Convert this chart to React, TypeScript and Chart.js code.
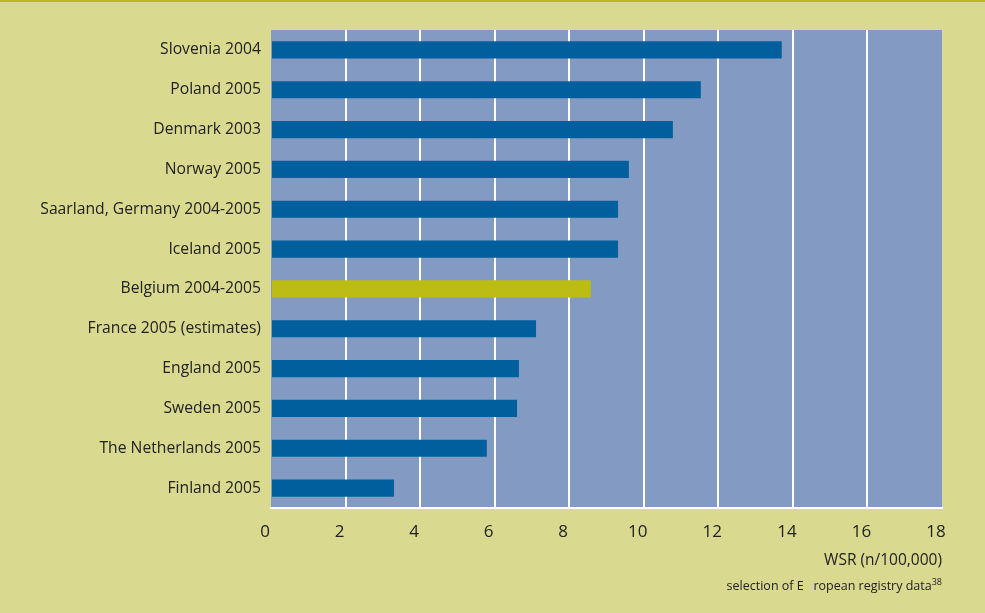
import React, { useEffect, useRef } from "react";
import { Chart, registerables } from "chart.js";

Chart.register(...registerables);

const categories = [
  "Slovenia 2004",
  "Poland 2005",
  "Denmark 2003",
  "Norway 2005",
  "Saarland, Germany 2004-2005",
  "Iceland 2005",
  "Belgium 2004-2005",
  "France 2005 (estimates)",
  "England 2005",
  "Sweden 2005",
  "The Netherlands 2005",
  "Finland 2005",
];
const wsrValues = [13.7, 11.53, 10.78, 9.6, 9.31, 9.31, 8.58, 7.11, 6.65, 6.6, 5.79, 3.3];
const highlighted = "Belgium 2004-2005";
const axisTitle = "WSR (n/100,000)";
const sourceText = "selection of E   ropean registry data";
const sourceSup = "38";

const BG = "#d9d98f";
const PLOT_BG = "#839bc3";
const BAR = "#005f9c";
const BAR_HI = "#bbbd15";
const TOP_LINE = "#b9bb16";
const TEXT = "#222222";
const FONT = "'Open Sans', sans-serif";

export default function App() {
  const ref = useRef<HTMLCanvasElement | null>(null);
  useEffect(() => {
    if (!ref.current) return;
    const bgPlugin = {
      id: "bgPlugin",
      beforeDraw(chart: any) {
        const { ctx, chartArea, width } = chart;
        ctx.save();
        ctx.fillStyle = BG;
        ctx.fillRect(0, 0, chart.width, chart.height);
        ctx.fillStyle = TOP_LINE;
        ctx.fillRect(0, 0, width, 2);
        ctx.fillStyle = PLOT_BG;
        ctx.fillRect(chartArea.left, chartArea.top, chartArea.right - chartArea.left, chartArea.bottom - chartArea.top);
        ctx.restore();
      },
      afterDraw(chart: any) {
        const { ctx, chartArea } = chart;
        ctx.save();
        ctx.fillStyle = TEXT;
        ctx.textAlign = "right";
        ctx.textBaseline = "middle";
        ctx.font = `15.5px ${FONT}`;
        ctx.fillText(axisTitle, chartArea.right, 561);
        ctx.font = `9px ${FONT}`;
        const supW = ctx.measureText(sourceSup).width;
        ctx.fillText(sourceSup, chartArea.right, 582);
        ctx.font = `12.5px ${FONT}`;
        ctx.fillText(sourceText, chartArea.right - supW, 586);
        ctx.restore();
      },
    };
    const chart = new Chart(ref.current, {
      type: "bar",
      data: {
        labels: categories,
        datasets: [
          {
            data: wsrValues,
            backgroundColor: categories.map((c) => (c === highlighted ? BAR_HI : BAR)),
            borderWidth: 0,
            barPercentage: 0.43,
            categoryPercentage: 1,
          },
        ],
      },
      options: {
        indexAxis: "y",
        animation: false,
        responsive: false,
        maintainAspectRatio: false,
        layout: { padding: { left: 0, right: 43, top: 30, bottom: 0 } },
        plugins: { legend: { display: false }, tooltip: { enabled: false } },
        scales: {
          x: {
            min: 0,
            max: 18,
            ticks: {
              stepSize: 2,
              color: TEXT,
              font: { family: FONT, size: 17 },
              padding: 14,
              labelOffset: -6,
            },
            grid: {
              drawTicks: false,
              color: (ctx: any) =>
                ctx.tick && (ctx.tick.value === 0 || ctx.tick.value === 18) ? "rgba(0,0,0,0)" : "#ffffff",
              lineWidth: 2,
            },
            border: { display: true, color: "#ffffff", width: 2 },
            afterFit: (scale: any) => {
              scale.height = 105;
            },
          },
          y: {
            ticks: {
              color: TEXT,
              font: { family: FONT, size: 15.7 },
              padding: 10,
            },
            grid: { display: false, drawTicks: false },
            border: { display: false },
            afterFit: (scale: any) => {
              scale.width = 271;
            },
          },
        },
      },
      plugins: [bgPlugin],
    } as any);
    return () => chart.destroy();
  }, []);
  return (
    <div style={{ position: "fixed", left: 0, top: 0, width: 985, height: 613 }}>
      <canvas ref={ref} width={985} height={613} style={{ display: "block" }} />
    </div>
  );
}
